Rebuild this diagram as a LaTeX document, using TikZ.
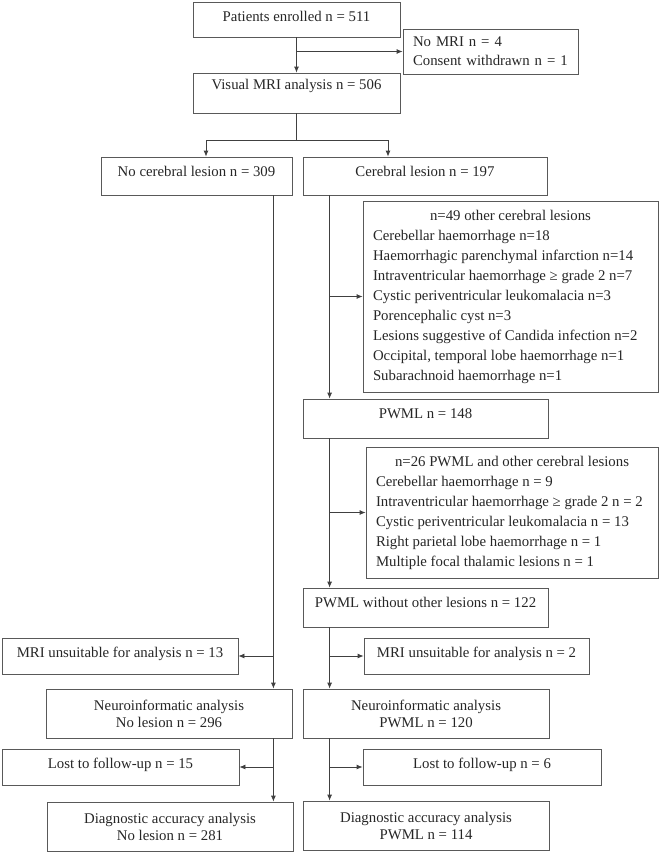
\documentclass[tikz,border=0pt]{standalone}
\usepackage{fontspec}
\setmainfont{Liberation Serif}
\usetikzlibrary{arrows.meta}
\usetikzlibrary{calc}

\begin{document}
\begin{tikzpicture}[x=1pt, y=-1pt,
    box/.style={draw=black!65, line width=0.8pt, inner sep=0pt, align=center,
      text=black!85, font=\fontsize{14.8}{17}\selectfont},
    lift/.style={text height=10pt, text depth=#1},
    listbox/.style={box, align=none, inner xsep=10pt, font=\fontsize{14.8}{20}\selectfont},
    arr/.style={-{Latex[length=6pt, width=5pt]}},
    line/.style={draw=black!75, line width=0.8pt}]
  \useasboundingbox (0, 0) rectangle (660, 854);
  \node [box, lift=6pt, minimum width=207pt, minimum height=35pt] (enrolled) at (296.5, 19.5) {Patients enrolled n = 511};
  \node [box, align=left, text width=155pt, inner xsep=10pt, minimum height=45pt,
    font=\fontsize{14.8}{19}\selectfont] (nomri) at (490.5, 51.5) {No MRI n = 4\\Consent withdrawn n = 1};
  \node [box, lift=17pt, minimum width=207pt, minimum height=40pt] (visual) at (296.5, 93) {Visual MRI analysis n = 506};
  \node [box, lift=9pt, minimum width=191pt, minimum height=38pt] (nolesion) at (196.5, 176) {No cerebral lesion n = 309};
  \node [box, lift=9pt, minimum width=244pt, minimum height=38pt] (lesion) at (425, 176) {Cerebral lesion n = 197};
  \node [listbox, text width=275pt, minimum height=191pt] (otherA) at (510.5, 296.5) {%
    \centering n=49 other cerebral lesions\par\raggedright
    Cerebellar haemorrhage n=18\\
    Haemorrhagic parenchymal infarction n=14\\
    Intraventricular haemorrhage ≥ grade 2 n=7\\
    Cystic periventricular leukomalacia n=3\\
    Porencephalic cyst n=3\\
    Lesions suggestive of Candida infection n=2\\
    Occipital, temporal lobe haemorrhage n=1\\
    Subarachnoid haemorrhage n=1};
  \node [box, lift=10pt, minimum width=245pt, minimum height=39pt] (pwmlA) at (425.5, 418.5) {PWML n = 148};
  \node [listbox, text width=272pt, minimum height=131pt] (otherB) at (512, 512.5) {%
    \centering n=26 PWML and other cerebral lesions\par\raggedright
    Cerebellar haemorrhage n = 9\\
    Intraventricular haemorrhage ≥ grade 2 n = 2\\
    Cystic periventricular leukomalacia n = 13\\
    Right parietal lobe haemorrhage n = 1\\
    Multiple focal thalamic lesions n = 1};
  \node [box, lift=10pt, minimum width=245pt, minimum height=39pt] (pwmlB) at (425.5, 607.5) {PWML without other lesions n = 122};
  \node [box, lift=7pt, minimum width=236pt, minimum height=36pt] (unsuitL) at (120, 656) {MRI unsuitable for analysis n = 13};
  \node [box, lift=7pt, minimum width=225pt, minimum height=36pt] (unsuitR) at (476.5, 656) {MRI unsuitable for analysis n = 2};
  \node [box, minimum width=246pt, minimum height=49pt] (neuroL) at (169, 713.5) {Neuroinformatic analysis\\No lesion n = 296};
  \node [box, minimum width=246pt, minimum height=49pt] (neuroR) at (426, 713.5) {Neuroinformatic analysis\\PWML n = 120};
  \node [box, lift=7pt, minimum width=237pt, minimum height=36pt] (lostL) at (120.5, 767) {Lost to follow-up n = 15};
  \node [box, lift=7pt, minimum width=238pt, minimum height=36pt] (lostR) at (482, 767) {Lost to follow-up n = 6};
  \node [box, minimum width=246pt, minimum height=49pt] (diagL) at (170, 826.5) {Diagnostic accuracy analysis\\No lesion n = 281};
  \node [box, minimum width=246pt, minimum height=49pt] (diagR) at (426, 825.5) {Diagnostic accuracy analysis\\PWML n = 114};

  \coordinate (sL) at (206, 140);  % delning
  \coordinate (sR) at (388, 140);
  \coordinate (tL) at ($(nolesion.south east)+(-19, 0)$);  % vänster stam
  \coordinate (tR) at ($(lesion.south west)+(27, 0)$);  % höger stam

  \draw [line, arr] (enrolled) -- (visual);
  \draw [line, arr] (enrolled.south |- nomri.west) -- (nomri.west);
  \draw [line] (visual.south) -- (visual.south |- sL);
  \draw [line] (sL) -- (sR);
  \draw [line, arr] (sL) -- (sL |- nolesion.north);
  \draw [line, arr] (sR) -- (sR |- lesion.north);
  % vänster gren
  \draw [line, arr] (tL) -- (tL |- neuroL.north);
  \draw [line, arr] (tL |- unsuitL.east) -- (unsuitL.east);
  \draw [line, arr] (tL |- neuroL.south) -- (tL |- diagL.north);
  \draw [line, arr] (tL |- lostL.east) -- (lostL.east);
  % höger gren
  \draw [line, arr] (tR) -- (tR |- pwmlA.north);
  \draw [line, arr] (tR |- otherA.west) -- (otherA.west);
  \draw [line, arr] (tR |- pwmlA.south) -- (tR |- pwmlB.north);
  \draw [line, arr] (tR |- otherB.west) -- (otherB.west);
  \draw [line, arr] (tR |- pwmlB.south) -- (tR |- neuroR.north);
  \draw [line, arr] (tR |- unsuitR.west) -- (unsuitR.west);
  \draw [line, arr] (tR |- neuroR.south) -- (tR |- diagR.north);
  \draw [line, arr] (tR |- lostR.west) -- (lostR.west);
\end{tikzpicture}
\end{document}
